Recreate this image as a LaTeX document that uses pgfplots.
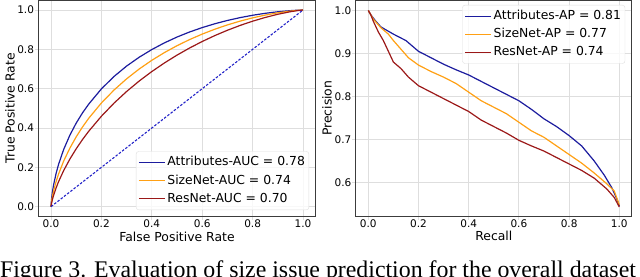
\documentclass[border=0pt]{standalone}
\usepackage{fontspec}
\setmainfont{DejaVu Sans}
\newfontfamily\capfont{Liberation Serif}
\usepackage{pgfplots}
\pgfplotsset{compat=1.18}
\definecolor{cblue}{RGB}{28,28,158}
\definecolor{cdiag}{RGB}{35,35,200}
\definecolor{corange}{RGB}{255,160,20}
\definecolor{cred}{RGB}{155,24,24}
\definecolor{gridc}{RGB}{222,222,222}
\definecolor{spinec}{RGB}{60,60,60}
\pgfplotsset{
  myaxis/.style={
    scale only axis,
    axis line style={spinec, line width=0.9pt},
    grid=major,
    major grid style={gridc, line width=0.9pt},
    tick align=outside,
    major tick length=3.5pt,
    tick style={gridc, line width=0.9pt},
    xtick pos=left, ytick pos=left,
    ticklabel style={font=\fontsize{10.5}{12}\selectfont},
    xticklabel style={yshift=3.8pt},
    yticklabel style={xshift=2.6pt},
    label style={font=\fontsize{12.4}{14}\selectfont},
    xticklabel={\pgfmathprintnumber[fixed,fixed zerofill,precision=1,assume math mode=true]{\tick}},
    yticklabel={\pgfmathprintnumber[fixed,fixed zerofill,precision=1,assume math mode=true]{\tick}},
    legend cell align=left,
    legend style={font=\fontsize{12.4}{14}\selectfont, draw=gridc, rounded corners=2.5pt,
      fill=white, fill opacity=0.8, text opacity=1, inner xsep=2pt, inner ysep=3pt,
      row sep=2.3pt, nodes={inner sep=2pt, text height=9.4pt, text depth=2.5pt}},
    legend image code/.code={\draw[##1] (0pt,0pt) -- (26pt,0pt);},
  }
}
\begin{document}
\begin{tikzpicture}
\path[use as bounding box] (0,0) rectangle (640pt,276pt);
\begin{axis}[myaxis,
  at={(38.4pt,59.5pt)}, anchor=south west,
  width=277.2pt, height=216.3pt,
  xmin=-0.05, xmax=1.05, ymin=-0.05, ymax=1.05,
  xtick={0,0.2,0.4,0.6,0.8,1.0}, ytick={0,0.2,0.4,0.6,0.8,1.0},
  xlabel={False Positive Rate}, ylabel={True Positive Rate},
  xlabel style={at={(axis description cs:0.5,-0.1133)}, anchor=base},
  ylabel style={at={(axis description cs:-0.1025,0.5)}, anchor=center},
  legend style={at={(1,0)}, anchor=south east, xshift=-6.5pt, yshift=6.5pt},
]
\addplot[cblue, line width=1.2pt] coordinates {
(0,0) (0.002,0.037) (0.005,0.069) (0.01,0.1086) (0.02,0.168) (0.03,0.215) (0.05,0.290)
(0.075,0.364) (0.1,0.425) (0.125,0.477) (0.15,0.522) (0.2,0.599) (0.25,0.662) (0.3,0.715)
(0.35,0.760) (0.4,0.799) (0.45,0.833) (0.5,0.8626) (0.55,0.8883) (0.6,0.9107) (0.65,0.9302)
(0.7,0.947) (0.75,0.9613) (0.8,0.9734) (0.85,0.9833) (0.9,0.9912) (0.95,0.9969) (0.98,0.9992) (1,1)};
\addlegendentry{Attributes-AUC = 0.78}
\addplot[corange, line width=1.2pt] coordinates {
(0,0) (0.002,0.0245) (0.005,0.0479) (0.01,0.0784) (0.02,0.1263) (0.03,0.1658) (0.05,0.2312)
(0.075,0.298) (0.1,0.3551) (0.125,0.4052) (0.15,0.4499) (0.2,0.5273) (0.25,0.5931) (0.3,0.6501)
(0.35,0.7001) (0.4,0.7443) (0.45,0.7836) (0.5,0.8186) (0.55,0.8498) (0.6,0.8776) (0.65,0.9024)
(0.7,0.9243) (0.75,0.9435) (0.8,0.9601) (0.85,0.9742) (0.9,0.9858) (0.95,0.9947) (0.98,0.9985) (1,1)};
\addlegendentry{SizeNet-AUC = 0.74}
\addplot[cred, line width=1.2pt] coordinates {
(0,0) (0.002,0.0163) (0.005,0.0333) (0.01,0.0565) (0.02,0.0946) (0.03,0.1271) (0.05,0.183)
(0.075,0.2423) (0.1,0.2944) (0.125,0.3413) (0.15,0.384) (0.2,0.4599) (0.25,0.5265) (0.3,0.5857)
(0.35,0.639) (0.4,0.6871) (0.45,0.7308) (0.5,0.7707) (0.55,0.8069) (0.6,0.84) (0.65,0.87)
(0.7,0.8971) (0.75,0.9215) (0.8,0.9432) (0.85,0.9622) (0.9,0.9784) (0.95,0.9915) (0.98,0.9974) (1,1)};
\addlegendentry{ResNet-AUC = 0.70}
\addplot[cdiag, line width=1.1pt, dash pattern=on 2.5pt off 1.6pt, forget plot] coordinates {(0,0) (1,1)};
\end{axis}
\begin{axis}[myaxis,
  at={(355.75pt,60pt)}, anchor=south west,
  width=276.1pt, height=215.4pt,
  xmin=-0.05, xmax=1.05, ymin=0.522, ymax=1.023,
  xtick={0,0.2,0.4,0.6,0.8,1.0}, ytick={0.6,0.7,0.8,0.9,1.0},
  xlabel={Recall}, ylabel={Precision},
  xlabel style={at={(axis description cs:0.5,-0.116)}, anchor=base},
  ylabel style={at={(axis description cs:-0.104,0.5)}, anchor=center},
  legend style={at={(1,1)}, anchor=north east, xshift=-6.7pt, yshift=-4.4pt},
]
\addplot[cblue, line width=1.2pt] coordinates {
(0,1.0) (0.01,0.99) (0.03,0.975) (0.05,0.962) (0.07,0.955) (0.1,0.945) (0.15,0.93) (0.2,0.905)
(0.25,0.89) (0.3,0.875) (0.35,0.862) (0.4,0.85) (0.45,0.835) (0.5,0.82) (0.55,0.805) (0.6,0.79)
(0.65,0.77) (0.7,0.748) (0.75,0.73) (0.8,0.709) (0.85,0.685) (0.9,0.65) (0.94,0.617) (0.97,0.588)
(0.99,0.562) (1.0,0.545)};
\addlegendentry{Attributes-AP = 0.81}
\addplot[corange, line width=1.2pt] coordinates {
(0,1.0) (0.02,0.98) (0.05,0.96) (0.08,0.945) (0.1,0.93) (0.13,0.91) (0.16,0.89) (0.2,0.873)
(0.25,0.858) (0.3,0.845) (0.35,0.83) (0.4,0.81) (0.45,0.79) (0.5,0.775) (0.55,0.76) (0.6,0.74)
(0.65,0.72) (0.7,0.705) (0.75,0.685) (0.8,0.665) (0.85,0.645) (0.9,0.622) (0.95,0.597) (0.98,0.58)
(1.0,0.548)};
\addlegendentry{SizeNet-AP = 0.77}
\addplot[cred, line width=1.2pt] coordinates {
(0,1.0) (0.01,0.99) (0.02,0.975) (0.04,0.95) (0.06,0.93) (0.08,0.905) (0.1,0.88) (0.13,0.865)
(0.16,0.845) (0.2,0.825) (0.25,0.81) (0.3,0.795) (0.35,0.78) (0.4,0.765) (0.45,0.745) (0.5,0.73)
(0.55,0.715) (0.6,0.698) (0.65,0.685) (0.7,0.673) (0.75,0.658) (0.8,0.643) (0.85,0.628) (0.9,0.61)
(0.95,0.585) (0.98,0.565) (1.0,0.543)};
\addlegendentry{ResNet-AP = 0.74}
\end{axis}
\node[anchor=base, inner sep=0, font=\capfont\fontsize{23.85}{26}\selectfont] at (318pt,-1pt)
  {Figure 3. Evaluation of size issue prediction for the overall dataset};
\end{tikzpicture}
\end{document}
